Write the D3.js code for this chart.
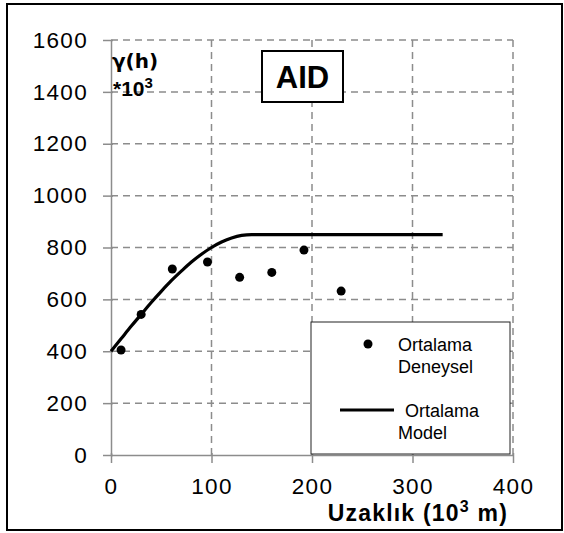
<!DOCTYPE html>
<html><head><meta charset="utf-8">
<script src="https://cdn.jsdelivr.net/npm/d3@7"></script>
<style>body{margin:0;background:#fff}svg{display:block}text{font-family:"Liberation Sans",Arial,sans-serif}</style>
</head><body><svg id="c" width="564" height="533"></svg>
<script>
const xTicks = [0, 100, 200, 300, 400];
const yTicks = [0, 200, 400, 600, 800, 1000, 1200, 1400, 1600];
const expX = [10, 30, 61, 96, 128, 160, 192, 229];
const expY = [405, 542, 717, 744, 685, 704, 790, 632];
const modelX = [0, 10, 20, 30, 40, 50, 60, 70, 80, 90, 100, 110, 120, 130, 140, 330];
const modelY = [400, 448, 496, 542, 588, 631, 672, 709, 744, 774, 800, 821, 837, 847, 850, 850];

const svg = d3.select("#c");
const x = d3.scaleLinear().domain([0, 400]).range([111, 513]);
const y = d3.scaleLinear().domain([0, 1600]).range([455, 40]);
const grid = "#8c8c8c";

svg.append("rect").attr("x", 7).attr("y", 4).attr("width", 555).attr("height", 526)
  .attr("fill", "none").attr("stroke", "#000").attr("stroke-width", 2);

// grid
svg.append("g").selectAll("line").data(yTicks.filter(d => d > 0)).join("line")
  .attr("x1", x(0)).attr("x2", x(400)).attr("y1", d => y(d)).attr("y2", d => y(d))
  .attr("stroke", grid).attr("stroke-width", 1.5).attr("stroke-dasharray", "7,5");
svg.append("g").selectAll("line").data(xTicks.filter(d => d > 0)).join("line")
  .attr("x1", d => x(d)).attr("x2", d => x(d)).attr("y1", y(0)).attr("y2", y(1600))
  .attr("stroke", grid).attr("stroke-width", 1.5).attr("stroke-dasharray", "7,5");

// axes
const yAxis = d3.axisLeft(y).tickValues(yTicks).tickFormat(d3.format("d")).tickSize(0).tickPadding(23);
const gy = svg.append("g").attr("transform", `translate(${x(0)},0)`).call(yAxis);
gy.select(".domain").attr("stroke", grid).attr("stroke-width", 1.5);
gy.selectAll("text").style("font-size", "22.5px").style("letter-spacing", "1.3px").attr("fill", "#000");
gy.selectAll(".tick").append("line").attr("x1", -8).attr("x2", 2).attr("stroke", grid).attr("stroke-width", 1.5);

const xAxis = d3.axisBottom(x).tickValues(xTicks).tickFormat(d3.format("d")).tickSize(0).tickPadding(23);
const gx = svg.append("g").attr("transform", `translate(0,${y(0)})`).call(xAxis);
gx.select(".domain").attr("stroke", grid).attr("stroke-width", 1.5);
gx.selectAll("text").style("font-size", "22.5px").style("letter-spacing", "1.3px").attr("fill", "#000");
gx.selectAll(".tick").append("line").attr("y1", -2).attr("y2", 8).attr("stroke", grid).attr("stroke-width", 1.5);

// legend box
svg.append("rect").attr("x", 311).attr("y", 322).attr("width", 199).attr("height", 132)
  .attr("fill", "#fff").attr("stroke", "#222").attr("stroke-width", 1);

// model line
const line = d3.line().x((d, i) => x(modelX[i])).y(d => y(d)).curve(d3.curveMonotoneX);
svg.append("path").datum(modelY).attr("d", line).attr("fill", "none")
  .attr("stroke", "#000").attr("stroke-width", 3.2);

// points
svg.append("g").selectAll("circle").data(expX).join("circle")
  .attr("cx", d => x(d)).attr("cy", (d, i) => y(expY[i])).attr("r", 4.5).attr("fill", "#000");

// legend contents
svg.append("circle").attr("cx", 368).attr("cy", 344).attr("r", 4.5).attr("fill", "#000");
svg.append("line").attr("x1", 340).attr("x2", 394).attr("y1", 410).attr("y2", 410)
  .attr("stroke", "#000").attr("stroke-width", 3.2);
const lg = [["Ortalama", 398, 351], ["Deneysel", 398, 373], ["Ortalama", 405, 417], ["Model", 398, 439]];
svg.append("g").selectAll("text").data(lg).join("text")
  .attr("x", d => d[1]).attr("y", d => d[2]).style("font-size", "18px").text(d => d[0]);

// AID box
svg.append("rect").attr("x", 262).attr("y", 51).attr("width", 81).attr("height", 51)
  .attr("fill", "#fff").attr("stroke", "#000").attr("stroke-width", 2);
svg.append("text").attr("x", 302.5).attr("y", 88).attr("text-anchor", "middle")
  .style("font-size", "31px").style("font-weight", "bold").text("AID");

// y label
svg.append("text").attr("x", 112).attr("y", 68).style("font-size", "20px").style("font-weight", "bold")
  .style("font-family", "DejaVu Sans, sans-serif").text("γ(h)");
const t2 = svg.append("text").attr("x", 113).attr("y", 96).style("font-size", "21px").style("font-weight", "bold");
t2.append("tspan").text("*10");
t2.append("tspan").style("font-size", "15px").attr("dy", -8).text("3");

// x label
const xl = svg.append("text").attr("x", 508).attr("y", 521).attr("text-anchor", "end")
  .style("font-size", "23px").style("font-weight", "bold").style("letter-spacing", "1.2px");
xl.append("tspan").text("Uzaklık (10");
xl.append("tspan").style("font-size", "16px").attr("dy", -9).text("3");
xl.append("tspan").attr("dy", 9).text(" m)");
</script></body></html>
